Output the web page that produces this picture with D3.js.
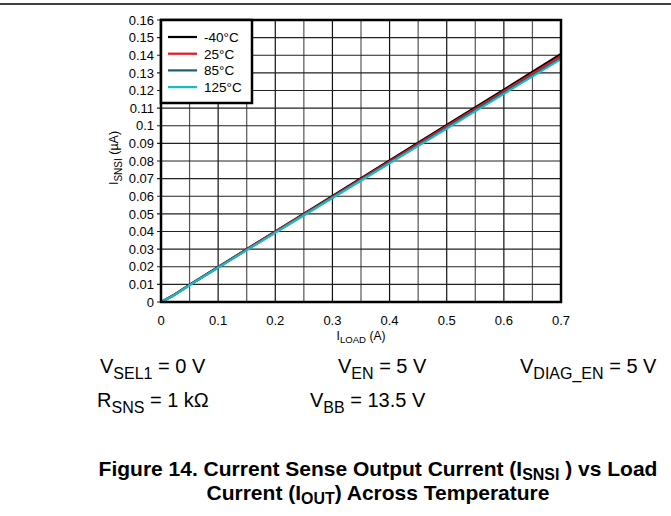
<!DOCTYPE html>
<html>
<head>
<meta charset="utf-8">
<script src="https://cdn.jsdelivr.net/npm/d3@7"></script>
<style>
  body { margin: 0; background: #fff; }
  text { font-family: "Liberation Sans", Arial, sans-serif; fill: #000; }
</style>
</head>
<body>
<div class="plot-container"></div>
<script>
// load current (A)
const loadCurrent = [0, 0.02, 0.05, 0.1, 0.2, 0.3, 0.4, 0.5, 0.6, 0.7];
// sense current per temperature
const senseM40 = [0, 0.0035, 0.0098, 0.0199, 0.0401, 0.0602, 0.0803, 0.1004, 0.1205, 0.1407];
const sense25  = [0, 0.0034, 0.0097, 0.0198, 0.0399, 0.0598, 0.0797, 0.0997, 0.1196, 0.1396];
const sense85  = [0, 0.0033, 0.0096, 0.0196, 0.0395, 0.0593, 0.0791, 0.0989, 0.1187, 0.1384];
const sense125 = [0, 0.0032, 0.0095, 0.0195, 0.0393, 0.0590, 0.0787, 0.0984, 0.1181, 0.1378];
const seriesNames = ["-40°C", "25°C", "85°C", "125°C"];
const xTicks = [0, 0.1, 0.2, 0.3, 0.4, 0.5, 0.6, 0.7];
const yTicks = d3.range(0, 17).map(i => +(i * 0.01).toFixed(2));
const xGrid = d3.range(0, 15).map(i => +(i * 0.05).toFixed(2));

const colors = ["#000000", "#e8141c", "#1e5f70", "#19b9c9"];
const allSeries = [senseM40, sense25, sense85, sense125];

const width = 671, height = 516;
const plot = { left: 161, right: 561, top: 20, bottom: 302 };

const svg = d3.select(".plot-container").append("svg")
    .attr("width", width)
    .attr("height", height);

// rule at the top of the page
svg.append("line")
    .attr("x1", 0).attr("x2", width)
    .attr("y1", 4).attr("y2", 4)
    .style("stroke", "#000").style("stroke-width", 1.5);

const xScale = d3.scaleLinear().domain([0, 0.7]).range([plot.left, plot.right]);
const yScale = d3.scaleLinear().domain([0, 0.16]).range([plot.bottom, plot.top]);

// grid
svg.append("g").selectAll("line")
    .data(xGrid)
    .enter().append("line")
    .attr("x1", d => xScale(d)).attr("x2", d => xScale(d))
    .attr("y1", plot.top).attr("y2", plot.bottom)
    .style("stroke", (d, i) => i % 2 ? "#555" : "#111")
    .style("stroke-width", 1.2);

svg.append("g").selectAll("line")
    .data(yTicks)
    .enter().append("line")
    .attr("x1", plot.left - 4).attr("x2", plot.right)
    .attr("y1", d => yScale(d)).attr("y2", d => yScale(d))
    .style("stroke", "#222")
    .style("stroke-width", 1.2);

// tick labels
svg.append("g").selectAll("text")
    .data(yTicks)
    .enter().append("text")
    .attr("x", plot.left - 7)
    .attr("y", d => yScale(d) + 4.7)
    .attr("text-anchor", "end")
    .style("font-size", "13px")
    .text(d => d3.format("")(d));

svg.append("g").selectAll("text")
    .data(xTicks)
    .enter().append("text")
    .attr("x", d => xScale(d))
    .attr("y", plot.bottom + 23)
    .attr("text-anchor", "middle")
    .style("font-size", "13px")
    .text(d => d3.format("")(d));

// lines
const line = d3.line()
    .x((d, i) => xScale(loadCurrent[i]))
    .y(d => yScale(d));

allSeries.forEach((s, i) => {
    svg.append("path")
        .attr("d", line(s))
        .style("fill", "none")
        .style("stroke", colors[i])
        .style("stroke-width", 2.2);
});

// frame
svg.append("rect")
    .attr("x", plot.left).attr("y", plot.top)
    .attr("width", plot.right - plot.left)
    .attr("height", plot.bottom - plot.top)
    .style("fill", "none")
    .style("stroke", "#000")
    .style("stroke-width", 2.5);

// legend
const legend = svg.append("g");
legend.append("rect")
    .attr("x", plot.left).attr("y", plot.top)
    .attr("width", 91).attr("height", 83)
    .style("fill", "#fff")
    .style("stroke", "#000")
    .style("stroke-width", 2.5);
seriesNames.forEach((name, i) => {
    const y = 37 + i * 16.7;
    legend.append("line")
        .attr("x1", 168).attr("x2", 197)
        .attr("y1", y).attr("y2", y)
        .style("stroke", colors[i]).style("stroke-width", 2.2);
    legend.append("text")
        .attr("x", 204).attr("y", y + 5)
        .style("font-size", "13.5px")
        .text(name);
});

// text with subscripts
function richText(g, x, y, parts, size, anchor, subScale, subShift) {
    const k = subScale || 0.78;
    const shift = size * (subShift || 0.28);
    const t = g.append("text")
        .attr("x", x).attr("y", y)
        .attr("text-anchor", anchor || "start")
        .style("font-size", size + "px");
    let down = false;
    parts.forEach(p => {
        const sub = Array.isArray(p);
        const span = t.append("tspan").text(sub ? p[0] : p);
        if (sub) {
            span.style("font-size", (size * k) + "px").attr("dy", down ? 0 : shift);
            down = true;
        } else {
            span.attr("dy", down ? -shift : 0);
            down = false;
        }
    });
    return t;
}

// axis titles
richText(svg, xScale(0.35), plot.bottom + 38, ["I", ["LOAD"], " (A)"], 12, "middle", 0.8);
richText(svg, 0, 0, ["I", ["SNSI"], " (µA)"], 12.5, "middle", 0.8)
    .attr("transform", `translate(118,158) rotate(-90)`);

// conditions
richText(svg, 100, 373, ["V", ["SEL1"], " = 0 V"], 20, "start", 0.8);
richText(svg, 338, 373, ["V", ["EN"], " = 5 V"], 20, "start", 0.8);
richText(svg, 520, 373, ["V", ["DIAG_EN"], " = 5 V"], 20, "start", 0.8);
richText(svg, 97, 407, ["R", ["SNS"], " = 1 kΩ"], 20, "start", 0.8);
richText(svg, 310, 407, ["V", ["BB"], " = 13.5 V"], 20, "start", 0.8);

// caption
richText(svg, 378, 476, ["Figure 14. Current Sense Output Current (I", ["SNSI"], " ) vs Load"], 21, "middle", 0.76, 0.2)
    .style("font-weight", "bold");
richText(svg, 378, 500, ["Current (I", ["OUT"], ") Across Temperature"], 21, "middle", 0.76, 0.2)
    .style("font-weight", "bold");
</script>
</body>
</html>
